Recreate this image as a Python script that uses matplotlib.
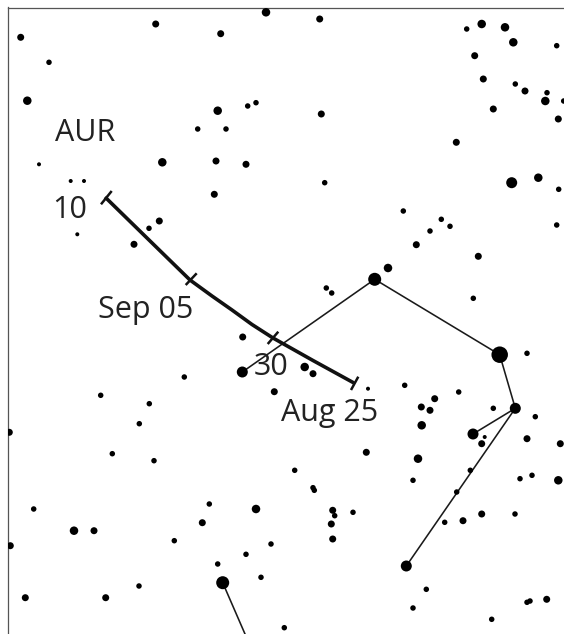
import matplotlib
matplotlib.use("Agg")
import matplotlib.pyplot as plt

W, H = 564, 634
FRAME = 7.5

# stars, in chart pixels; mag is a size class (0 = brightest)
star_x = [20.7, 49, 27.3, 155.7, 220.7, 266, 217.7, 247.7, 256, 197.7, 226, 39, 162.3, 216, 246,
          214.3, 70.7, 84, 77.3, 159.3, 149, 134,
          319.7, 321.3, 324.7, 466.7, 481.7, 505, 513.3, 556.7, 474.7, 483.3, 515.3, 525, 547,
          545.3, 563.7, 558.3, 493.3, 456.3, 511.7, 538.3, 558.7, 556.7, 403.3, 441.3, 450, 430,
          416.3, 478.3, 388, 374.7, 326.3, 331.7, 473.3,
          242.7, 242.3, 274.3, 184.3, 100.7, 149.3, 139.3, 9.3, 112.3, 154, 33.7, 74, 94, 10.3,
          209.3, 256, 202.3, 174.3, 271, 246, 217.7, 222.7, 261, 139, 25.3, 105.7,
          304.7, 313, 368, 404.7, 434.7, 421.3, 430, 421.7, 458.7, 499.7, 527, 515.3, 493.3,
          535.3, 473, 484.7, 481.7, 527, 560.3, 366.3, 418, 294.7, 413, 470.3, 520, 532, 558.3,
          313, 314.3, 456.7, 332.7, 334.7, 353, 331.3, 332.7, 444.7, 463, 481.7, 515, 406.3,
          426.3, 413, 491.7, 527, 530, 546.7, 284.3]
star_y = [37.3, 62.3, 100.7, 24, 33.7, 12.3, 110.7, 106, 102.7, 129, 129, 164.3, 162.3, 161, 164.3,
          194.3, 181, 181, 234.3, 221, 228.3, 244.3,
          19, 114, 182.7, 29, 24, 27.3, 42.3, 45.7, 55.7, 79, 84, 91, 92.7,
          101, 101, 119, 109, 142.3, 182.7, 177.7, 189.3, 225, 211, 219.3, 226.3, 231,
          244.7, 256.3, 268, 279.3, 288, 293, 298.3,
          337, 372, 391.7, 377, 395.3, 403.7, 423.7, 432.3, 453.7, 460.7, 509, 530.7, 530.7, 545.7,
          504, 509, 522.7, 540.7, 544, 554.3, 564, 582.7, 577.3, 586, 597.7, 597.7,
          367, 373.7, 388.7, 385.3, 398.7, 407, 410.3, 425.3, 392, 354.7, 353.3, 408.3, 408.3,
          416.7, 434, 437, 443.7, 438.7, 443.7, 452.3, 458.7, 470.3, 480.3, 470.3, 478.7, 475.3, 480.3,
          487.7, 490.3, 492, 510.3, 515.7, 512.3, 524, 539, 522.3, 520.7, 514, 514, 566,
          589.3, 608, 619.3, 602.3, 601, 599.3, 627.7]
star_mag = [4, 5, 3, 4, 4, 3, 3, 5, 5, 5, 5, 6, 3, 4, 4,
            4, 6, 6, 6, 4, 5, 4,
            4, 4, 5, 5, 3, 3, 3, 5, 4, 4, 5, 4, 5,
            3, 5, 4, 4, 4, 2, 3, 5, 5, 5, 5, 5, 5,
            4, 4, 3, 1, 5, 5, 5,
            4, 2, 4, 5, 5, 5, 5, 4, 5, 5, 5, 3, 4, 4,
            5, 3, 4, 5, 5, 5, 5, 1, 5, 5, 4, 4,
            3, 4, 6, 5, 4, 4, 4, 3, 5, 0, 5, 2, 5,
            5, 2, 6, 4, 4, 4, 4, 3, 5, 5, 5, 5, 5, 3,
            5, 5, 5, 4, 5, 5, 4, 4, 5, 4, 4, 5, 2,
            5, 5, 5, 5, 5, 4, 5]
mag_diam = {0: 16.5, 1: 13, 2: 11, 3: 8.5, 4: 7, 5: 5.5, 6: 4}

# constellation stick figure
figure_lines = [
    ([242.3, 374.7, 499.7, 515.3, 473], [372, 279.3, 354.7, 408.3, 434]),
    ([515.3, 406.3], [408.3, 566]),
    ([222.7, 245], [582.7, 634]),
]

# comet track
track_x = [105, 148, 190, 212, 232, 252, 273, 313, 354]
track_y = [197, 239, 280, 296, 310, 324.5, 338, 360.5, 383]
tick_ends = [
    ([101, 111.7], [204.3, 191]),
    ([185.7, 196.7], [285, 273.3]),
    ([267.7, 278.3], [344, 331.7]),
    ([351, 358.3], [390, 376.7]),
]

labels = ["AUR", "10", "Sep 05", "30", "Aug 25"]
label_x = [55, 52, 98, 254, 281]
label_y = [141, 218, 318, 375, 421]

plt.rcParams["font.family"] = ["Open Sans", "DejaVu Sans"]

fig = plt.figure(figsize=(W / 100, H / 100), dpi=100)
ax = fig.add_axes([FRAME / W, 0, 1 - FRAME / W, 1 - FRAME / H])
ax.set_xlim(FRAME, W)
ax.set_ylim(H, FRAME)
ax.set_xticks([])
ax.set_yticks([])
for side in ["right", "bottom"]:
    ax.spines[side].set_visible(False)
for side in ["left", "top"]:
    ax.spines[side].set_color("#555555")
    ax.spines[side].set_linewidth(0.9)

sizes = [(mag_diam[m] * 0.72) ** 2 for m in star_mag]
ax.scatter(star_x, star_y, s=sizes, c="black", linewidths=0, zorder=3)

for xs, ys in figure_lines:
    ax.plot(xs, ys, color="#1a1a1a", lw=1.15, zorder=2)

ax.plot(track_x, track_y, color="#111111", lw=2.6, zorder=4, solid_capstyle="butt")
for xs, ys in tick_ends:
    ax.plot(xs, ys, color="#111111", lw=1.8, zorder=4, solid_capstyle="butt")

for text, x, y in zip(labels, label_x, label_y):
    ax.text(x, y, text, fontsize=22, color="#222222", ha="left", va="baseline", zorder=5)

fig.savefig("out.png", dpi=100)
